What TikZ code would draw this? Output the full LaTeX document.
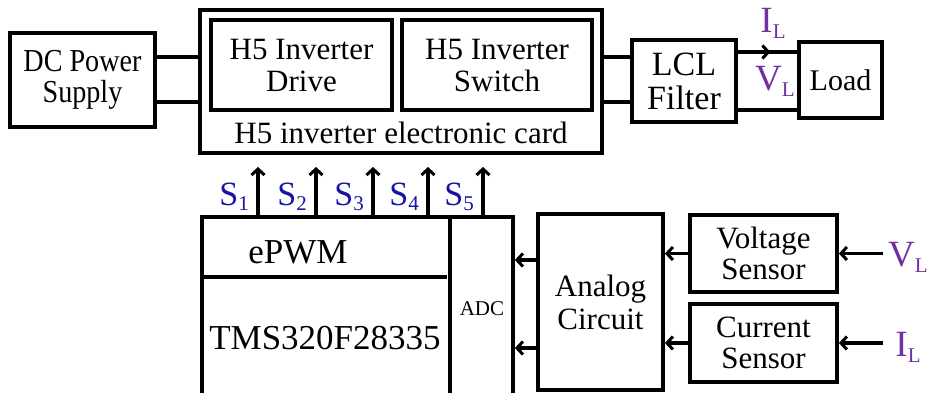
\documentclass[tikz,border=0pt]{standalone}
\usepackage{fontspec}
\setmainfont{Liberation Serif}
\newfontfamily\narrowfont{Liberation Serif}[FakeStretch=0.88]
\usetikzlibrary{arrows.meta, decorations.markings}

\definecolor{sigblue}{RGB}{20,20,165}
\definecolor{measpurple}{RGB}{112,48,160}
\newcommand{\lowsub}[1]{\raisebox{-0.35ex}{\fontsize{21}{21}\selectfont #1}}

\tikzset{
    block/.style={draw, line width=3.8pt, inner sep=0pt, align=center,
        font=\fontsize{31}{32}\selectfont},
    narrowblock/.style={block, font=\narrowfont\fontsize{32}{31}\selectfont},
    wire/.style={line width=3.6pt},
    sig/.style={wire, -{Straight Barb[length=6pt, width=13pt, line width=3pt]}},
    midarrow/.style={wire, postaction={decorate}, decoration={markings,
        mark=at position 0.55 with {\arrow{Straight Barb[length=6pt, width=13pt, line width=3pt]}}}},
    slabel/.style={text=sigblue, inner sep=1pt, font=\fontsize{34}{34}\selectfont},
    mlabel/.style={text=measpurple, inner sep=1pt, font=\fontsize{37}{37}\selectfont},
}

\begin{document}
\begin{tikzpicture}[x=1pt, y=-1pt]
    \useasboundingbox (0,0) rectangle (930,392);

    % power stage
    \node[narrowblock, minimum width=145pt, minimum height=94pt] (dc) at (82.5,80) {DC Power\\Supply};
    \node[block, line width=3.6pt, minimum width=402pt, minimum height=143pt] (card) at (401,81.5) {};
    \node[block, minimum width=181pt, minimum height=90pt] (drive) at (301.5,65) {H5 Inverter\\Drive};
    \node[block, minimum width=190pt, minimum height=90pt] (hswitch) at (497,65) {H5 Inverter\\Switch};
    \node[font=\fontsize{31}{31}\selectfont] (cardlabel) at (401,133) {H5 inverter electronic card};
    \node[block, minimum width=104pt, minimum height=82pt, font=\fontsize{34}{34}\selectfont] (lcl) at (684,81) {LCL\\Filter};
    \node[block, minimum width=83pt, minimum height=76pt, font=\fontsize{30}{30}\selectfont] (load) at (840.5,80) {Load};

    \draw[wire] (dc.east |- 0,57) -- (card.west |- 0,57);
    \draw[wire] (dc.east |- 0,102) -- (card.west |- 0,102);
    \draw[wire] (card.east |- 0,57) -- (lcl.west |- 0,57);
    \draw[wire] (card.east |- 0,102) -- (lcl.west |- 0,102);
    \draw[midarrow] (lcl.east |- 0,52) -- (load.west |- 0,52);
    \draw[wire] (lcl.east |- 0,110) -- (load.west |- 0,110);
    \node[mlabel] (iload) at (773,23) {I\lowsub{L}};
    \node[mlabel] (vload) at (775,81) {V\lowsub{L}};

    % controller
    \node[block, minimum width=311pt, minimum height=180pt] (mcu) at (357.5,307) {};
    \draw[line width=3.6pt] (450,217) -- (450,397);
    \draw[line width=3.6pt] (202,277) -- (447,277);
    \node[font=\fontsize{35}{35}\selectfont] (epwm) at (298,252) {ePWM};
    \node[font=\fontsize{35}{35}\selectfont] (tms) at (325,338) {TMS320F28335};
    \node[font=\fontsize{21}{21}\selectfont] (adc) at (482,309) {ADC};

    \foreach \x/\i in {258/1, 316/2, 373/3, 428/4, 483/5} {
        \coordinate (s\i) at (\x,167);
        \draw[sig] (mcu.north -| s\i) -- (s\i);
        \node[slabel, anchor=east] (sl\i) at (\x-8,197) {S\lowsub{\i}};
    }

    % measurement
    \node[block, minimum width=125pt, minimum height=176pt, font=\fontsize{31}{33}\selectfont] (analog) at (600.5,302) {Analog\\Circuit};
    \node[block, minimum width=147pt, minimum height=77pt, font=\fontsize{31}{31}\selectfont] (vsens) at (763.5,253.5) {Voltage\\Sensor};
    \node[block, minimum width=147pt, minimum height=78pt, font=\fontsize{31}{31}\selectfont] (csens) at (763.5,343) {Current\\Sensor};

    \draw[sig] (analog.west |- 0,260) -- (mcu.east |- 0,260);
    \draw[sig] (analog.west |- 0,348) -- (mcu.east |- 0,348);
    \draw[sig] (vsens.west) -- (analog.east |- vsens.west);
    \draw[sig] (csens.west) -- (analog.east |- csens.west);

    \coordinate (vin) at (883,253.5);
    \coordinate (iin) at (883,343);
    \draw[sig] (vin) -- (vsens.east);
    \draw[sig] (iin) -- (csens.east);
    \node[mlabel] (vmeas) at (908,257) {V\lowsub{L}};
    \node[mlabel] (imeas) at (908,347) {I\lowsub{L}};
\end{tikzpicture}
\end{document}
